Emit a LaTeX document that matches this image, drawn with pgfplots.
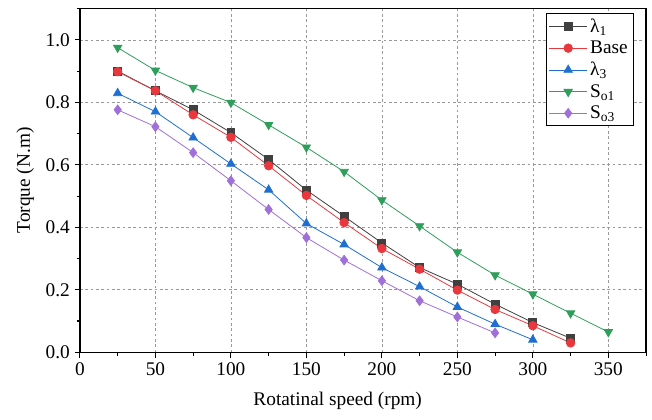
\documentclass[border=0pt]{standalone}
\usepackage{fontspec}
\setmainfont{Liberation Serif}
\usepackage{pgfplots}
\pgfplotsset{compat=1.18}
\definecolor{cblk}{HTML}{404040}
\definecolor{cred}{HTML}{E8383D}
\definecolor{cblue}{HTML}{1F6FD1}
\definecolor{cgreen}{HTML}{2E9E5B}
\definecolor{cpur}{HTML}{A070D8}
\begin{document}
\begin{tikzpicture}
\begin{axis}[
  scale only axis,
  width=425pt, height=258pt,
  xmin=0, xmax=375, ymin=0, ymax=1.1,
  xtick={0,50,...,350}, minor xtick={25,75,...,375},
  ytick={0,0.2,...,1.0}, minor ytick={0.1,0.3,...,1.1},
  tick align=outside, tick pos=left,
  major tick length=4pt, minor tick length=2.5pt,
  axis line style={line width=0.9pt},
  every tick/.style={black, line width=0.8pt},
  grid=major,
  major grid style={gray!80, dash pattern=on 2pt off 2pt, line width=0.5pt},
  yticklabel style={/pgf/number format/fixed, /pgf/number format/fixed zerofill, /pgf/number format/precision=1},
  /pgf/number format/assume math mode=true,
  tick label style={font=\fontsize{14.5}{16}\selectfont},
  label style={font=\fontsize{14.5}{16}\selectfont},
  xlabel={Rotatinal speed (rpm)},
  ylabel={Torque (N.m)},
  xlabel style={yshift=-6pt, xshift=-19pt},
  ylabel style={yshift=2pt},
  legend style={at={(0.978,0.988)}, anchor=north east, draw=black, line width=0.8pt,
    font=\fontsize{14.5}{16}\selectfont, row sep=1pt, inner sep=2pt},
  legend cell align=left,
  legend image code/.code={\draw[#1, line width=0.6pt] (0cm,0cm) -- (1.0cm,0cm); \draw[#1, only marks] plot coordinates {(0.5cm,0cm)};},
]
\addplot[cblk, mark=square*, mark size=3pt, mark options={fill=cblk, draw=cblk}, line width=0.6pt] coordinates {
(25,0.900) (50,0.837) (75,0.776) (100,0.703) (125,0.617) (150,0.519) (175,0.435) (200,0.350) (225,0.271) (250,0.218) (275,0.154) (300,0.095) (325,0.045)};
\addlegendentry{λ\textsubscript{1}}
\addplot[cred, mark=*, mark size=3.2pt, mark options={fill=cred, draw=cred}, line width=0.6pt] coordinates {
(25,0.898) (50,0.837) (75,0.760) (100,0.688) (125,0.597) (150,0.502) (175,0.415) (200,0.332) (225,0.266) (250,0.199) (275,0.137) (300,0.085) (325,0.030)};
\addlegendentry{Base}
\addplot[cblue, mark=triangle*, mark size=3.6pt, mark options={fill=cblue, draw=cblue}, line width=0.6pt] coordinates {
(25,0.829) (50,0.770) (75,0.687) (100,0.603) (125,0.520) (150,0.412) (175,0.345) (200,0.271) (225,0.210) (250,0.145) (275,0.090) (300,0.040)};
\addlegendentry{λ\textsubscript{3}}
\addplot[cgreen, mark=triangle*, mark size=3.6pt, mark options={fill=cgreen, draw=cgreen, rotate=180}, line width=0.6pt] coordinates {
(25,0.975) (50,0.902) (75,0.847) (100,0.799) (125,0.728) (150,0.656) (175,0.578) (200,0.487) (225,0.404) (250,0.320) (275,0.247) (300,0.186) (325,0.125) (350,0.065)};
\addlegendentry{S\textsubscript{o1}}
\addplot[cpur, mark=diamond*, mark size=3.6pt, mark options={fill=cpur, draw=cpur}, line width=0.6pt] coordinates {
(25,0.776) (50,0.722) (75,0.639) (100,0.549) (125,0.457) (150,0.367) (175,0.295) (200,0.229) (225,0.165) (250,0.113) (275,0.062)};
\addlegendentry{S\textsubscript{o3}}
\end{axis}
\path (current axis.outer north east) ++(4pt,6pt);
\path (current axis.outer south west) ++(-9pt,-4pt);
\end{tikzpicture}
\end{document}
